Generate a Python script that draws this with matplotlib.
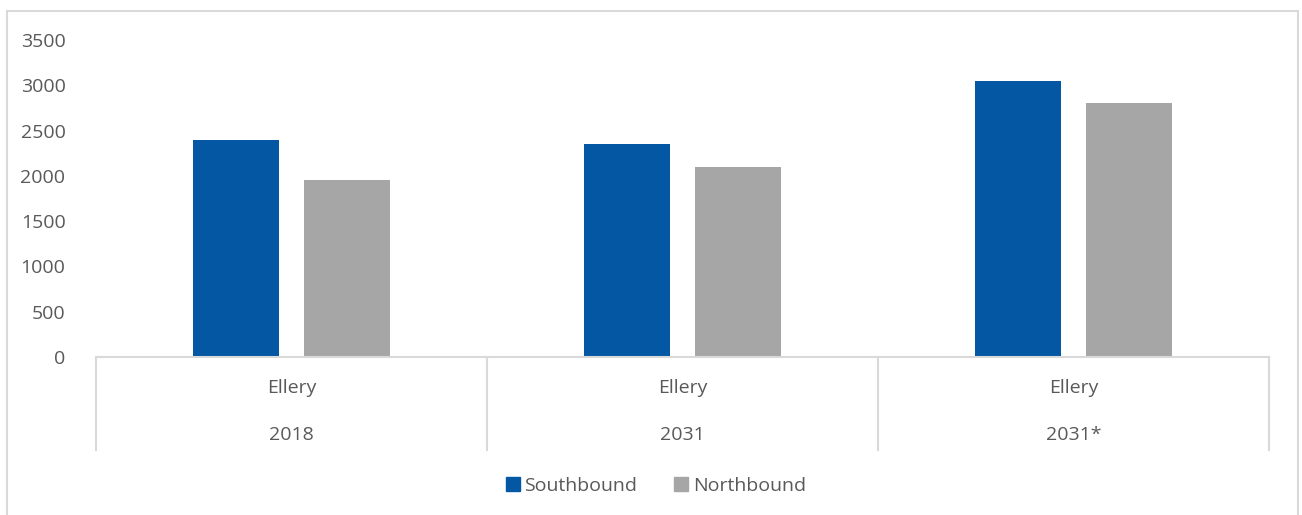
import numpy as np
import matplotlib.pyplot as plt
from matplotlib.patches import Rectangle, Patch

groups = ['Ellery', 'Ellery', 'Ellery']
years = ['2018', '2031', '2031*']
southbound = [2400, 2350, 3050]
northbound = [1950, 2100, 2800]
series_names = ['Southbound', 'Northbound']
colors = ['#0357a3', '#a6a6a6']
yticks = [0, 500, 1000, 1500, 2000, 2500, 3000, 3500]

plt.rcParams['font.family'] = ['Open Sans', 'DejaVu Sans']
text_color = '#595959'
line_color = '#d9d9d9'
fs = 14

W, H = 1302, 515
fig = plt.figure(figsize=(W / 100, H / 100), dpi=100)

# chart border like the Excel frame (bottom edge falls outside the image)
fig.patches.append(Rectangle((7 / W, -0.05), (1298 - 7) / W, 1.05 - 11 / H,
                             transform=fig.transFigure, fill=False,
                             edgecolor=line_color, linewidth=1.5))

left, right = 96 / W, 1269 / W
bottom, top = 1 - 357 / H, 1 - 40 / H
ax = fig.add_axes([left, bottom, right - left, top - bottom])

x = np.arange(len(years))
bw = 0.222
off = 0.142
ax.bar(x - off, southbound, bw, color=colors[0], label=series_names[0])
ax.bar(x + off, northbound, bw, color=colors[1], label=series_names[1])

ax.set_xlim(-0.5, len(years) - 0.5)
ax.set_ylim(0, 3500)
ax.set_yticks(yticks)
ax.set_yticklabels([str(v) for v in yticks], fontsize=fs, color=text_color)
ax.tick_params(axis='y', length=0, pad=22)
ax.set_xticks([])

for s in ['top', 'right', 'left']:
    ax.spines[s].set_visible(False)
ax.spines['bottom'].set_color(line_color)
ax.spines['bottom'].set_linewidth(1.5)

# multi-level category axis
sep_depth = -(450 - 357) / 317
trans = ax.get_xaxis_transform()
for xs in np.arange(len(years) + 1) - 0.5:
    ax.plot([xs, xs], [0, sep_depth], transform=trans, color=line_color,
            linewidth=1.5, clip_on=False)
for i in range(len(years)):
    ax.text(x[i], -(388 - 357) / 317, groups[i], transform=trans,
            ha='center', va='center', fontsize=fs, color=text_color)
    ax.text(x[i], -(435 - 357) / 317, years[i], transform=trans,
            ha='center', va='center', fontsize=fs, color=text_color)

handles = [Patch(color=colors[0], label=series_names[0]),
           Patch(color=colors[1], label=series_names[1])]
fig.legend(handles=handles, loc='center', bbox_to_anchor=(656 / W, 1 - 486 / H),
           ncol=2, frameon=False, fontsize=fs, labelcolor=text_color,
           handlelength=0.7, handleheight=0.7, handletextpad=0.25,
           columnspacing=1.9)

fig.savefig('out.png', dpi=100)
